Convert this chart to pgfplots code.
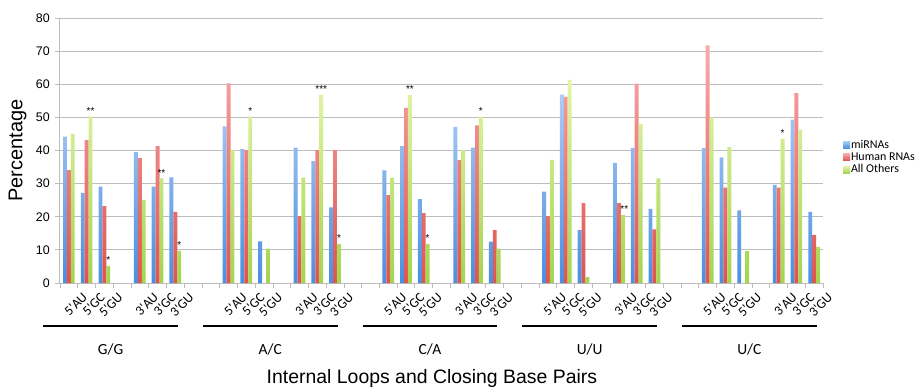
\documentclass[border=0pt]{standalone}
\usepackage{fontspec}
\setmainfont{Liberation Sans}
\newfontfamily\carlito{Carlito}
\usepackage{pgfplots}
\pgfplotsset{compat=1.18}
\definecolor{bluetop}{HTML}{AECCF6}
\definecolor{bluebot}{HTML}{4A8FE0}
\definecolor{redtop}{HTML}{F8AAAA}
\definecolor{redbot}{HTML}{DE5450}
\definecolor{greentop}{HTML}{E4F5AA}
\definecolor{greenbot}{HTML}{A4D44E}
\definecolor{gridgray}{HTML}{BDBDBD}
\begin{document}
\begin{tikzpicture}
\begin{axis}[
  scale only axis, width=763bp, height=265bp,
  xmin=-0.5, xmax=42.5, ymin=0, ymax=80,
  ybar=0pt, bar width=0.22,
  axis x line*=bottom, axis y line*=left,
  axis line style={draw=gridgray, line width=1bp},
  ymajorgrids, grid style={draw=gridgray, line width=1bp},
  ytick={0,10,...,80},
  xtick={-0.5,0.5,...,42.5}, xticklabels={},
  tick align=outside, major tick length=5bp,
  tick style={draw=gridgray, line width=0.8bp},
  /pgf/number format/assume math mode=true,
  yticklabel style={font=\fontsize{12.5}{12.5}\selectfont, inner sep=2bp, xshift=-3bp},
  extra x ticks={0,1,2,4,5,6,9,10,11,13,14,15,18,19,20,22,23,24,27,28,29,31,32,33,36,37,38,40,41,42},
  extra x tick labels={5'AU,5'GC,5'GU,3'AU,3'GC,3'GU,5'AU,5'GC,5'GU,3'AU,3'GC,3'GU,5'AU,5'GC,5'GU,3'AU,3'GC,3'GU,5'AU,5'GC,5'GU,3'AU,3'GC,3'GU,5'AU,5'GC,5'GU,3'AU,3'GC,3'GU},
  extra x tick style={major tick length=0pt, tick label style={rotate=45, anchor=north east, font=\carlito\fontsize{13.5}{13.5}\selectfont, inner sep=0pt, yshift=-15bp, xshift=3bp}},
  legend style={at={(1.026,0.475)}, anchor=west, draw=none, fill=none, font=\carlito\fontsize{12}{13}\selectfont, row sep=1bp, inner sep=0pt, nodes={inner sep=1bp}},
  legend cell align=left,
  legend image code/.code={\fill[#1] (0bp,-3.5bp) rectangle (7bp,3.5bp);},
  clip=false,
]
\addplot[draw=none, top color=bluetop, bottom color=bluebot] coordinates {
(0,44.2)(1,27.2)(2,29.1)(4,39.5)(5,29.1)(6,31.9)
(9,47.3)(10,40.4)(11,12.6)(13,40.9)(14,36.8)(15,22.8)
(18,34.0)(19,41.3)(20,25.3)(22,47.1)(23,40.9)(24,12.5)
(27,27.6)(28,56.9)(29,16.0)(31,36.3)(32,40.8)(33,22.4)
(36,40.7)(37,37.9)(38,21.9)(40,29.6)(41,49.3)(42,21.5)};
\addlegendentry{miRNAs}
\addplot[draw=none, top color=redtop, bottom color=redbot] coordinates {
(0,34.1)(1,43.1)(2,23.2)(4,37.7)(5,41.3)(6,21.5)
(9,60.3)(10,40.1)(13,20.2)(14,40.1)(15,40.1)
(18,26.5)(19,52.9)(20,21.1)(22,37.1)(23,47.6)(24,16.0)
(27,20.2)(28,56.2)(29,24.1)(31,24.1)(32,60.2)(33,16.2)
(36,71.7)(37,28.8)(40,28.8)(41,57.3)(42,14.5)};
\addlegendentry{Human RNAs}
\addplot[draw=none, top color=greentop, bottom color=greenbot] coordinates {
(0,45.0)(1,50.3)(2,5.2)(4,25.1)(5,31.6)(6,9.7)
(9,40.1)(10,50.2)(11,10.4)(13,31.8)(14,56.9)(15,11.8)
(18,31.8)(19,56.8)(20,11.8)(22,40.1)(23,50.2)(24,10.4)
(27,37.2)(28,61.3)(29,1.8)(31,20.6)(32,48.0)(33,31.6)
(36,50.0)(37,41.0)(38,9.6)(40,43.5)(41,46.3)(42,10.9)};
\addlegendentry{All Others}
% significance marks
\begin{scope}[every node/.style={anchor=base, inner sep=0pt, yshift=2bp, font=\fontsize{10}{10}\selectfont}]
\node at (axis cs:1.22,50.3) {**};
\node at (axis cs:2.22,5.2) {*};
\node at (axis cs:5.22,31.6) {**};
\node at (axis cs:6.22,9.7) {*};
\node at (axis cs:10.22,50.2) {*};
\node at (axis cs:14.22,56.9) {***};
\node at (axis cs:15.22,11.8) {*};
\node at (axis cs:19.22,56.8) {**};
\node at (axis cs:20.22,11.8) {*};
\node at (axis cs:23.22,50.2) {*};
\node at (axis cs:31.3,20.6) {**};
\node at (axis cs:40.22,43.5) {*};
\end{scope}
% group brackets and labels
\draw[line width=2.6bp, black] ([yshift=-43bp]axis cs:-1.45,0) -- ([yshift=-43bp]axis cs:6.15,0);
\draw[line width=2.6bp, black] ([yshift=-43bp]axis cs:7.55,0) -- ([yshift=-43bp]axis cs:15.15,0);
\draw[line width=2.6bp, black] ([yshift=-43bp]axis cs:16.55,0) -- ([yshift=-43bp]axis cs:24.15,0);
\draw[line width=2.6bp, black] ([yshift=-43bp]axis cs:25.55,0) -- ([yshift=-43bp]axis cs:33.15,0);
\draw[line width=2.6bp, black] ([yshift=-43bp]axis cs:34.55,0) -- ([yshift=-43bp]axis cs:42.15,0);
\node[font=\carlito\fontsize{15.5}{15.5}\selectfont] at ([yshift=-66bp]axis cs:2.35,0) {G/G};
\node[font=\carlito\fontsize{15.5}{15.5}\selectfont] at ([yshift=-66bp]axis cs:11.35,0) {A/C};
\node[font=\carlito\fontsize{15.5}{15.5}\selectfont] at ([yshift=-66bp]axis cs:20.35,0) {C/A};
\node[font=\carlito\fontsize{15.5}{15.5}\selectfont] at ([yshift=-66bp]axis cs:29.35,0) {U/U};
\node[font=\carlito\fontsize{15.5}{15.5}\selectfont] at ([yshift=-66bp]axis cs:38.35,0) {U/C};
\node[font=\fontsize{19.5}{19.5}\selectfont] at ([yshift=-95bp]rel axis cs:0.4875,0) {Internal Loops and Closing Base Pairs};
\node[rotate=90, font=\fontsize{20}{20}\selectfont] at ([xshift=-42.5bp]rel axis cs:0,0.5) {Percentage};
\end{axis}
\pgfresetboundingbox
\path[use as bounding box] (-60bp,-108bp) rectangle (857bp,283bp);
\end{tikzpicture}
\end{document}
